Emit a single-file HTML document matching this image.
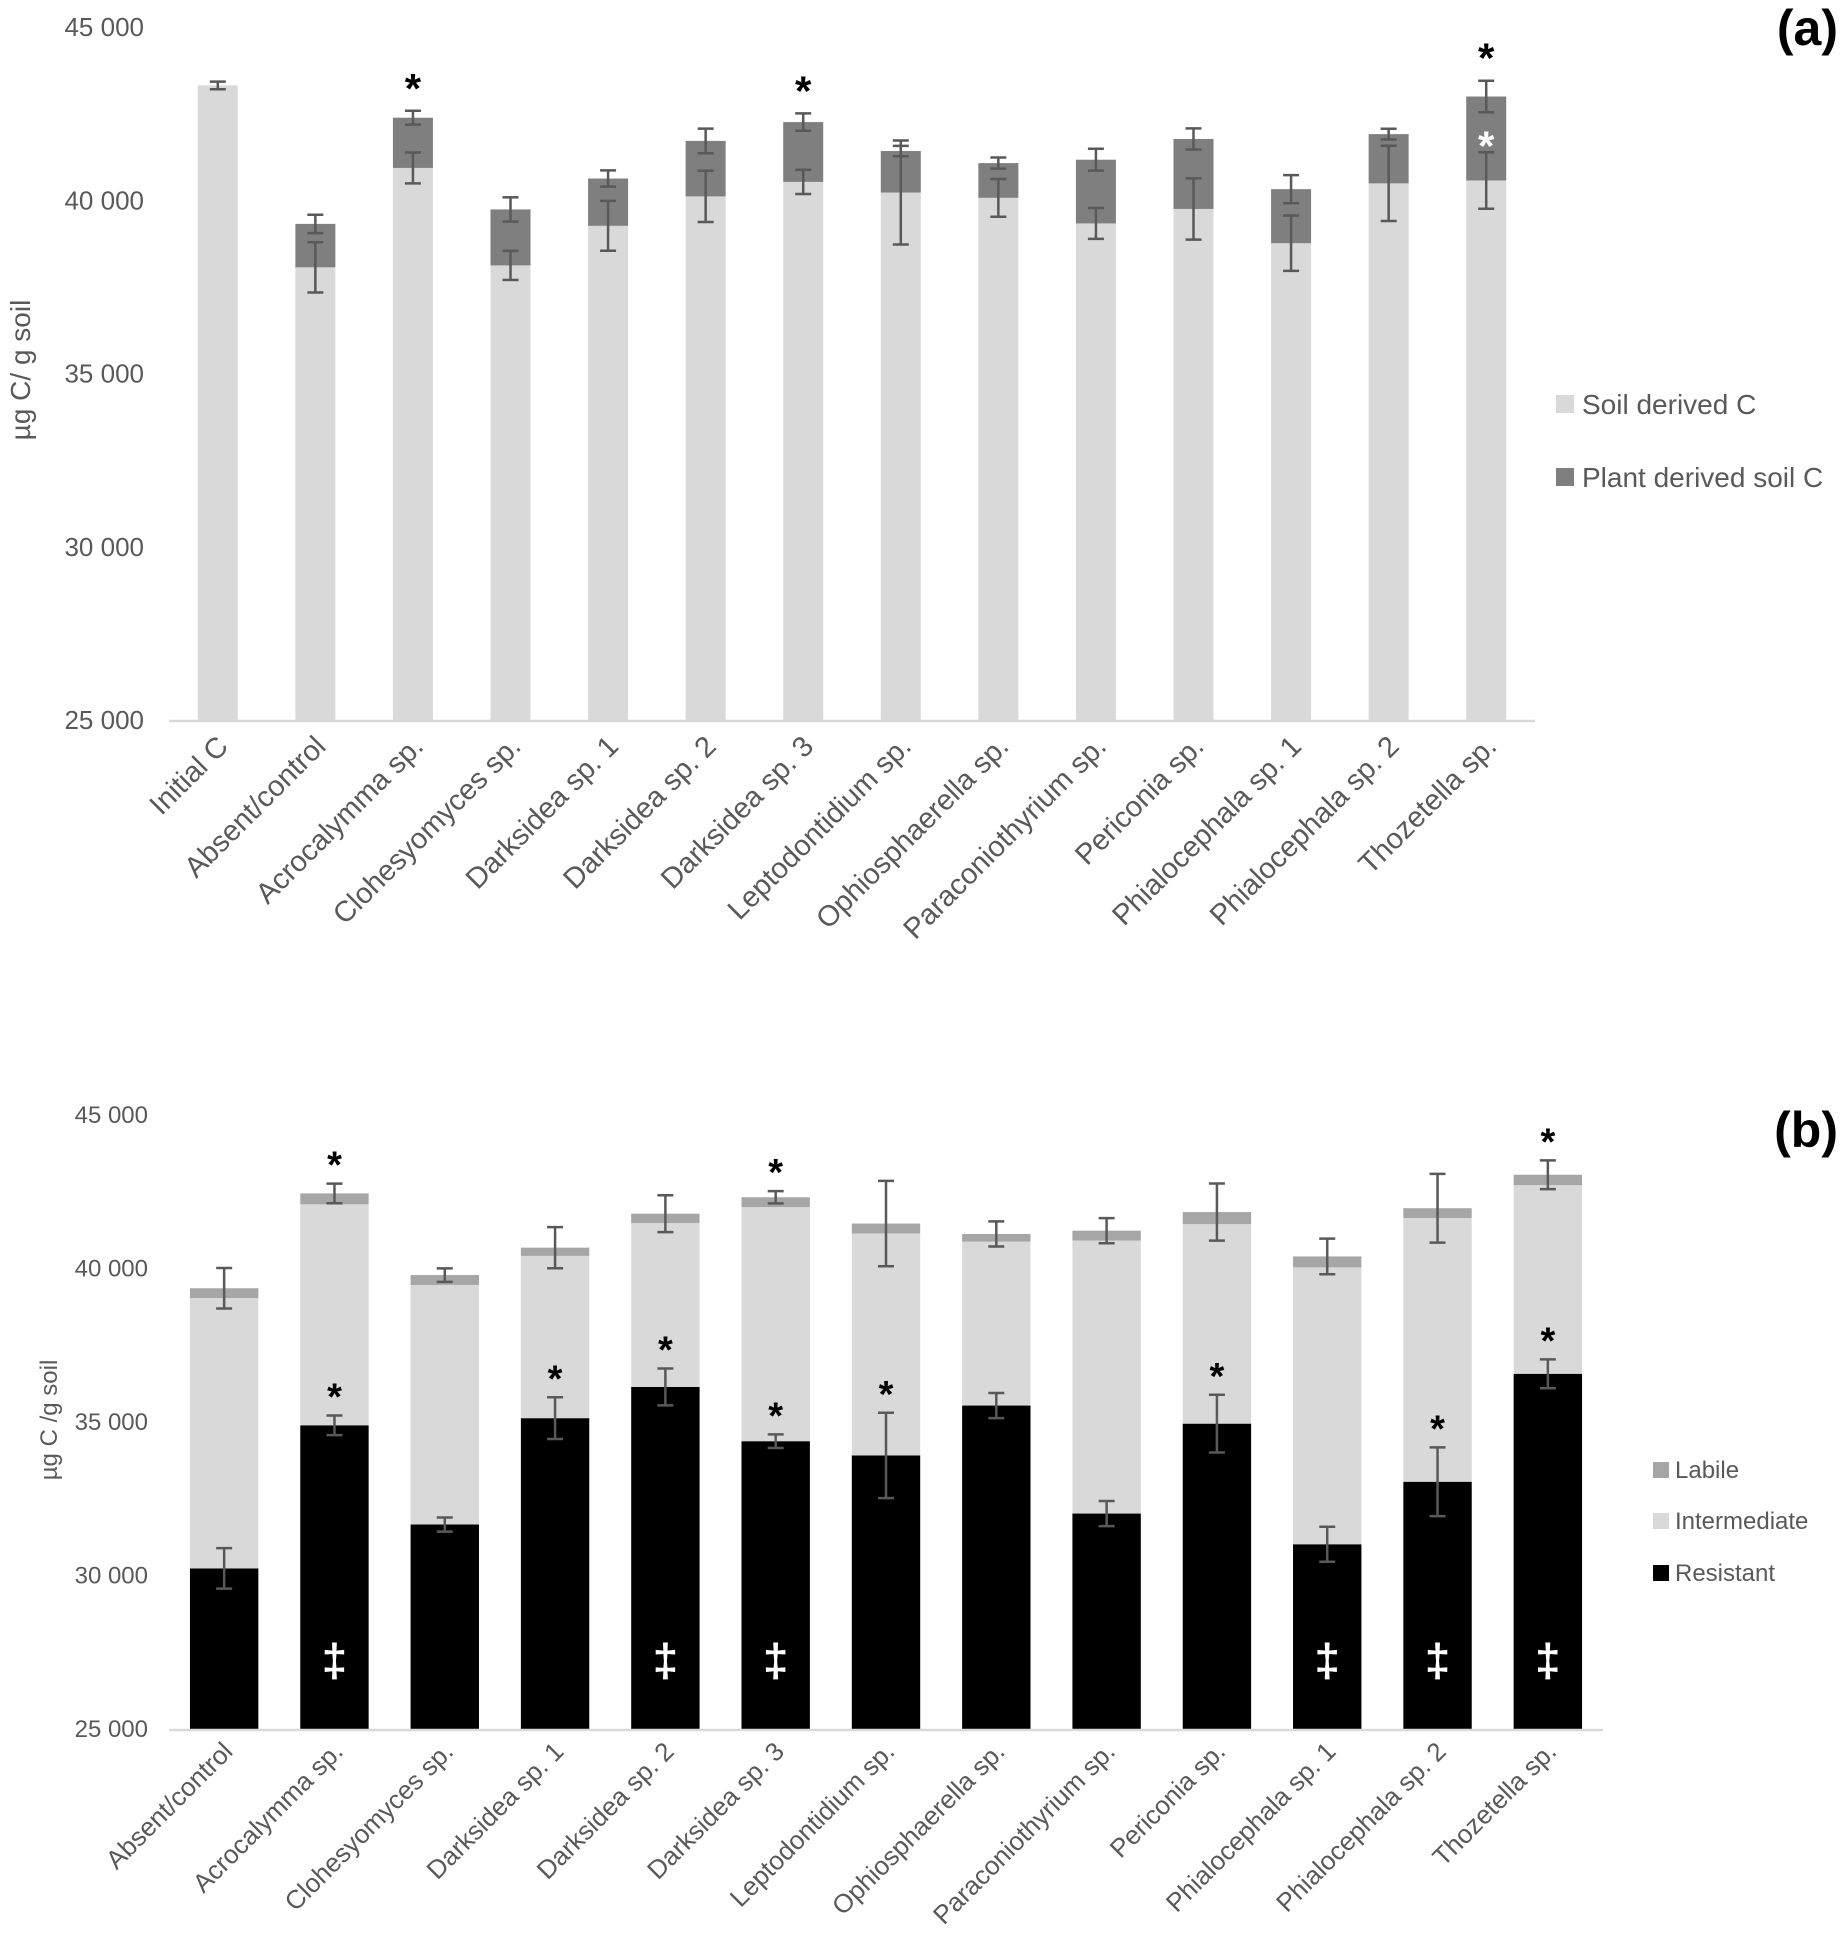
<!DOCTYPE html>
<html><head><meta charset="utf-8"><style>
html,body{margin:0;padding:0;background:#fff;}
svg{display:block;font-family:"Liberation Sans",sans-serif;}
</style></head><body>
<svg id="fig" width="1840" height="1939" viewBox="0 0 1840 1939" xmlns="http://www.w3.org/2000/svg">
<g id="chartA"></g>
<g id="chartB"></g>
</svg>
<script>
// ---- Chart (a) data ----
const catsA = ["Initial C","Absent/control","Acrocalymma sp.","Clohesyomyces sp.","Darksidea sp. 1","Darksidea sp. 2","Darksidea sp. 3","Leptodontidium sp.","Ophiosphaerella sp.","Paraconiothyrium sp.","Periconia sp.","Phialocephala sp. 1","Phialocephala sp. 2","Thozetella sp."];
const soilA = [43315,38064,40933,38120,39262,40111,40529,40223,40070,39331,39749,38760,40487,40571];
const totalA = [43315,39318,42382,39735,40627,41713,42256,41421,41072,41170,41769,40320,41908,42994];
const soilErrA = [110,725,445,420,720,740,350,1500,545,445,885,800,1085,815];
const totalErrA = [0,265,200,350,235,355,250,150,160,315,305,405,155,455];
const starA = [0,0,1,0,0,0,1,0,0,0,0,0,0,1];
const whiteStarA = [0,0,0,0,0,0,0,0,0,0,0,0,0,1];
const ticksA = [25000,30000,35000,40000,45000];
const tickLabelsA = ["25 000","30 000","35 000","40 000","45 000"];

// ---- Chart (b) data ----
const catsB = ["Absent/control","Acrocalymma sp.","Clohesyomyces sp.","Darksidea sp. 1","Darksidea sp. 2","Darksidea sp. 3","Leptodontidium sp.","Ophiosphaerella sp.","Paraconiothyrium sp.","Periconia sp.","Phialocephala sp. 1","Phialocephala sp. 2","Thozetella sp."];
const resB = [30232,34893,31661,35125,36143,34375,33911,35536,32018,34946,31018,33054,36571];
const intB = [39036,42089,39464,40411,41482,42000,41143,40875,40911,41446,40036,41643,42714];
const labB = [39357,42446,39786,40679,41786,42321,41464,41125,41232,41839,40393,41964,43054];
const resErrB = [660,320,230,680,600,220,1390,410,410,940,570,1120,470];
const totErrB = [660,320,220,670,600,200,1390,410,410,930,580,1120,470];
const topStarB = [0,1,0,0,0,1,0,0,0,0,0,0,1];
const midStarB = [0,1,0,1,1,1,1,0,0,1,0,1,1];
const daggerB = [0,1,0,0,1,1,0,0,0,0,1,1,1];
const ticksB = [25000,30000,35000,40000,45000];
const tickLabelsB = ["25 000","30 000","35 000","40 000","45 000"];

const NS="http://www.w3.org/2000/svg";
function mk(parent,tag,attrs){const e=document.createElementNS(NS,tag);for(const k in attrs)e.setAttribute(k,attrs[k]);parent.appendChild(e);return e;}

function errBar(g,x,yc,yTop,yBot,cap){
  const e=mk(g,"g",{});
  
  
  mk(e,"line",{x1:x,x2:x,y1:yTop,y2:yBot,stroke:"#595959","stroke-width":2.5});
  mk(e,"line",{x1:x-cap,x2:x+cap,y1:yTop,y2:yTop,stroke:"#595959","stroke-width":2.5});
  mk(e,"line",{x1:x-cap,x2:x+cap,y1:yBot,y2:yBot,stroke:"#595959","stroke-width":2.5});
}

// ===== Chart A =====
(function(){
  const g=document.getElementById('chartA');
  const L=169,R=1535,yBase=720,yTop=27,vMin=25000,vMax=45000;
  const y=v=>yBase-(v-vMin)/(vMax-vMin)*(yBase-yTop);
  const band=(R-L)/catsA.length, bw=band*0.41;
  const xc=i=>L+band*(i+0.5);
  ticksA.forEach((t,i)=>{
    const tx=mk(g,"text",{x:144,y:y(t)+9,"text-anchor":"end","font-size":26,fill:"#595959"});
    
    
    tx.textContent=tickLabelsA[i];
  });
  const yt=mk(g,"text",{x:0,y:0,transform:"translate(30,370) rotate(-90)","text-anchor":"middle","font-size":28,fill:"#595959"});
  
  
  yt.textContent="µg C/ g soil";
  catsA.forEach((c,i)=>{
    const bg=mk(g,"g",{});
    
    
    const r1=mk(bg,"rect",{x:xc(i)-bw/2,y:y(soilA[i]),width:bw,height:yBase-y(soilA[i]),fill:"#d9d9d9"});
    
    
    if(totalA[i]>soilA[i]){
      const r2=mk(bg,"rect",{x:xc(i)-bw/2,y:y(totalA[i]),width:bw,height:y(soilA[i])-y(totalA[i]),fill:"#7f7f7f"});
      
      
      errBar(bg,xc(i),0,y(totalA[i]+totalErrA[i]),y(totalA[i]-totalErrA[i]),8);
    }
    errBar(bg,xc(i),0,y(soilA[i]+soilErrA[i]),y(soilA[i]-soilErrA[i]),8);
    if(starA[i]){
      const s=mk(bg,"text",{x:xc(i),y:y(totalA[i]+totalErrA[i])-8,"text-anchor":"middle","font-size":42,"font-weight":"bold",fill:"#000"});
      
      
      s.textContent="*";
    }
    if(whiteStarA[i]){
      const s=mk(bg,"text",{x:xc(i),y:(y(totalA[i])+y(soilA[i]))/2+22,"text-anchor":"middle","font-size":42,"font-weight":"bold",fill:"#fff"});
      
      
      s.textContent="*";
    }
    const lx=xc(i)+12, ly=yBase+28;
    const t=mk(g,"text",{x:lx,y:ly,transform:`rotate(-45 ${lx} ${ly})`,"text-anchor":"end","font-size":29,fill:"#595959"});
    
    
    t.textContent=c;
  });
  const ax=mk(g,"line",{x1:L,x2:R,y1:yBase+1,y2:yBase+1,stroke:"#d9d9d9","stroke-width":2.5});
  
  
  const leg=[["Soil derived C","#d9d9d9",404],["Plant derived soil C","#7f7f7f",477]];
  leg.forEach(l=>{
    const lg=mk(g,"g",{});
    
    
    mk(lg,"rect",{x:1556,y:l[2]-9,width:18,height:18,fill:l[1]});
    const t=mk(lg,"text",{x:1582,y:l[2]+10,"font-size":28,fill:"#595959"});
    t.textContent=l[0];
  });
  const p=mk(g,"text",{x:1838,y:45,"text-anchor":"end","font-size":50,"font-weight":"bold",fill:"#000"});
  
  
  p.textContent="(a)";
})();

// ===== Chart B =====
(function(){
  const g=document.getElementById('chartB');
  const L=169,R=1603,yBase=1729,yTop=1115,vMin=25000,vMax=45000;
  const y=v=>yBase-(v-vMin)/(vMax-vMin)*(yBase-yTop);
  const band=(R-L)/catsB.length, bw=band*0.62;
  const xc=i=>L+band*(i+0.5);
  ticksB.forEach((t,i)=>{
    const tx=mk(g,"text",{x:148,y:y(t)+8,"text-anchor":"end","font-size":24,fill:"#595959"});
    
    
    tx.textContent=tickLabelsB[i];
  });
  const yt=mk(g,"text",{x:0,y:0,transform:"translate(57,1420) rotate(-90)","text-anchor":"middle","font-size":24,fill:"#595959"});
  
  
  yt.textContent="µg C /g soil";
  catsB.forEach((c,i)=>{
    const bg=mk(g,"g",{});
    
    
    const x0=xc(i)-bw/2;
    const r1=mk(bg,"rect",{x:x0,y:y(resB[i]),width:bw,height:yBase-y(resB[i]),fill:"#000"});
    
    
    const r2=mk(bg,"rect",{x:x0,y:y(intB[i]),width:bw,height:y(resB[i])-y(intB[i]),fill:"#d9d9d9"});
    
    
    const r3=mk(bg,"rect",{x:x0,y:y(labB[i]),width:bw,height:y(intB[i])-y(labB[i]),fill:"#a6a6a6"});
    
    
    errBar(bg,xc(i),0,y(resB[i]+resErrB[i]),y(resB[i]-resErrB[i]),8);
    errBar(bg,xc(i),0,y(labB[i]+totErrB[i]),y(labB[i]-totErrB[i]),8);
    if(topStarB[i]){
      const s=mk(bg,"text",{x:xc(i),y:y(labB[i]+totErrB[i])-6,"text-anchor":"middle","font-size":38,"font-weight":"bold",fill:"#000"});
      
      
      s.textContent="*";
    }
    if(midStarB[i]){
      const s=mk(bg,"text",{x:xc(i),y:y(resB[i]+resErrB[i])-6,"text-anchor":"middle","font-size":38,"font-weight":"bold",fill:"#000"});
      
      
      s.textContent="*";
    }
    if(daggerB[i]){
      const s=mk(bg,"text",{x:xc(i),y:1676,"text-anchor":"middle","font-size":46,"font-weight":"bold",fill:"#fff"});
      
      
      s.textContent="‡";
    }
    const lx=xc(i)+10, ly=yBase+24;
    const t=mk(g,"text",{x:lx,y:ly,transform:`rotate(-45 ${lx} ${ly})`,"text-anchor":"end","font-size":26,fill:"#595959"});
    
    
    t.textContent=c;
  });
  const ax=mk(g,"line",{x1:L,x2:R,y1:yBase+1,y2:yBase+1,stroke:"#d9d9d9","stroke-width":2.5});
  
  
  const leg=[["Labile","#a6a6a6",1470],["Intermediate","#d9d9d9",1521],["Resistant","#000",1573]];
  leg.forEach(l=>{
    const lg=mk(g,"g",{});
    
    
    mk(lg,"rect",{x:1653,y:l[2]-8,width:16,height:16,fill:l[1]});
    const t=mk(lg,"text",{x:1675,y:l[2]+8,"font-size":24,fill:"#595959"});
    t.textContent=l[0];
  });
  const p=mk(g,"text",{x:1838,y:1147,"text-anchor":"end","font-size":50,"font-weight":"bold",fill:"#000"});
  
  
  p.textContent="(b)";
})();
</script>
</body></html>
